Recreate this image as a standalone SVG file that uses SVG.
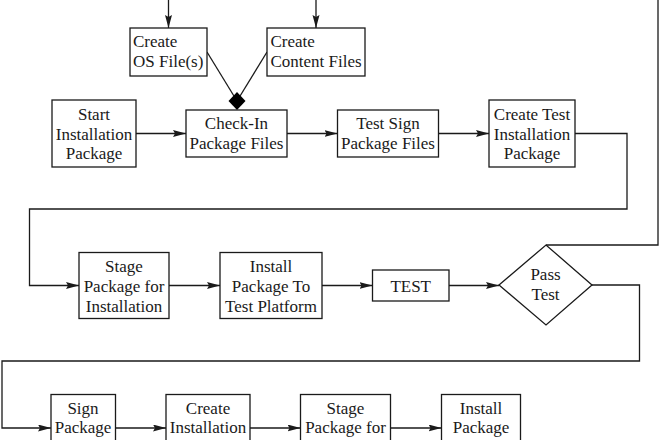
<svg xmlns="http://www.w3.org/2000/svg" width="660" height="440" viewBox="0 0 660 440">
<defs>
<style>
.box{fill:#fff;stroke:#1a1a1a;stroke-width:1.3}
.ln{fill:none;stroke:#1a1a1a;stroke-width:1.3}
.arr{marker-end:url(#ah)}
text{font-family:"Liberation Serif","Times New Roman",Times,"Nimbus Roman","Nimbus Roman No9 L","Noto Serif","DejaVu Serif",FreeSerif,serif;font-size:17px;fill:#1a1a1a}
.c{text-anchor:middle}
</style>
<marker id="ah" markerUnits="userSpaceOnUse" markerWidth="14" markerHeight="8" refX="13" refY="3.5" orient="auto">
<path d="M0,0 L13,3.5 L0,7 L2,3.5 z" fill="#1a1a1a"/>
</marker>
</defs>
<rect width="660" height="440" fill="#fff"/>
<g id="connectors">
<path class="ln arr" d="M168.5,0 V28"/>
<path class="ln arr" d="M316,0 V28"/>
<path class="ln" d="M207,52 L237,101"/>
<path class="ln" d="M267,52 L237,101"/>
<path class="ln arr" d="M136,133.5 H186"/>
<path class="ln arr" d="M287,133.5 H337.5"/>
<path class="ln arr" d="M438.5,133.5 H489"/>
<path class="ln arr" d="M575,133.5 H627 V209 H29.5 V285.5 H79"/>
<path class="ln arr" d="M169,285.5 H220"/>
<path class="ln arr" d="M322,285.5 H372.5"/>
<path class="ln arr" d="M449,285.5 H499"/>
<path class="ln" d="M546,245 H658 V0"/>
<path class="ln arr" d="M592,285 H639.5 V361 H2 V428 H51"/>
<path class="ln arr" d="M115.5,428 H166"/>
<path class="ln arr" d="M250,428 H300.5"/>
<path class="ln arr" d="M390.5,428 H441.5"/>
<path d="M237,92 L245.5,101 L237,110 L228.5,101 z" fill="#000"/>
</g>
<g id="os-files">
<rect class="box" x="130" y="28" width="77" height="48"/>
<text x="133" y="47">Create</text>
<text x="133" y="67">OS File(s)</text>
</g>
<g id="content-files">
<rect class="box" x="267" y="28" width="98" height="48"/>
<text x="270.5" y="47">Create</text>
<text x="270.5" y="67">Content Files</text>
</g>
<g id="start">
<rect class="box" x="52" y="100" width="84" height="67"/>
<text class="c" x="94" y="119.5">Start</text>
<text class="c" x="94" y="139.5">Installation</text>
<text class="c" x="94" y="159">Package</text>
</g>
<g id="check-in">
<rect class="box" x="186" y="110" width="101" height="47"/>
<text class="c" x="236.5" y="129">Check-In</text>
<text class="c" x="236.5" y="149">Package Files</text>
</g>
<g id="test-sign">
<rect class="box" x="337.5" y="110" width="101" height="47"/>
<text class="c" x="388" y="129">Test Sign</text>
<text class="c" x="388" y="149">Package Files</text>
</g>
<g id="create-test">
<rect class="box" x="489" y="100" width="86" height="67"/>
<text class="c" x="532" y="119.5">Create Test</text>
<text class="c" x="532" y="139.5">Installation</text>
<text class="c" x="532" y="159">Package</text>
</g>
<g id="stage-test">
<rect class="box" x="79" y="252.5" width="90" height="66"/>
<text class="c" x="124" y="271.5">Stage</text>
<text class="c" x="124" y="291.5">Package for</text>
<text class="c" x="124" y="311.5">Installation</text>
</g>
<g id="install-test">
<rect class="box" x="220" y="252.5" width="102" height="66"/>
<text class="c" x="271" y="271.5">Install</text>
<text class="c" x="271" y="291.5">Package To</text>
<text class="c" x="271" y="311.5">Test Platform</text>
</g>
<g id="test">
<rect class="box" x="372.5" y="270" width="76.5" height="31"/>
<text class="c" x="410.7" y="291.5">TEST</text>
</g>
<g id="pass-test">
<path class="box" d="M499,285 L546,245 L592,285 L546,325 z"/>
<text class="c" x="545.5" y="280">Pass</text>
<text class="c" x="545.5" y="299.5">Test</text>
</g>
<g id="sign-package">
<rect class="box" x="51" y="394.5" width="64.5" height="67"/>
<text class="c" x="83" y="413.5">Sign</text>
<text class="c" x="83" y="433">Package</text>
</g>
<g id="create-installation">
<rect class="box" x="166" y="394.5" width="84" height="67"/>
<text class="c" x="208" y="413.5">Create</text>
<text class="c" x="208" y="433">Installation</text>
</g>
<g id="stage-final">
<rect class="box" x="300.5" y="394.5" width="90" height="67"/>
<text class="c" x="345.5" y="413.5">Stage</text>
<text class="c" x="345.5" y="433">Package for</text>
</g>
<g id="install-final">
<rect class="box" x="441.5" y="394.5" width="79" height="67"/>
<text class="c" x="481" y="413.5">Install</text>
<text class="c" x="481" y="433">Package</text>
</g>
</svg>
